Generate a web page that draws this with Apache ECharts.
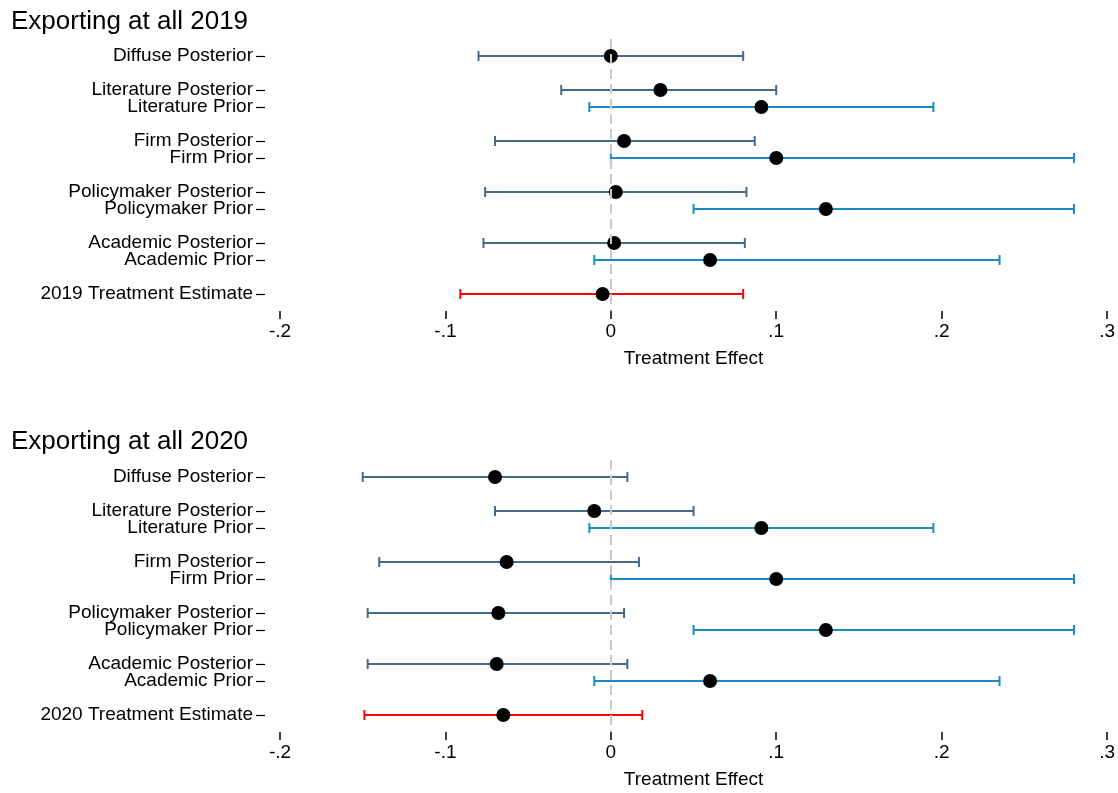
<!DOCTYPE html>
<html>
<head>
<meta charset="utf-8">
<title>Exporting at all</title>
<script src="https://cdn.jsdelivr.net/npm/echarts@6/dist/echarts.min.js"></script>
<style>
	html, body { margin: 0; padding: 0; background: #fff; }
	#chart { width: 1118px; height: 793px; }
</style>
</head>
<body>
<div id="chart"></div>
<script>
	"use strict";

	/*-----data-----*/
	var rowLabels = ['Diffuse Posterior', 'Literature Posterior', 'Literature Prior', 'Firm Posterior', 'Firm Prior',
		'Policymaker Posterior', 'Policymaker Prior', 'Academic Posterior', 'Academic Prior'];
	var rowKinds = ['posterior', 'posterior', 'prior', 'posterior', 'prior', 'posterior', 'prior', 'posterior', 'prior', 'estimate'];

	var est2019 = [0.000, 0.030, 0.091, 0.008, 0.100, 0.003, 0.130, 0.002, 0.060, -0.005];
	var low2019 = [-0.080, -0.030, -0.013, -0.070, 0.000, -0.076, 0.050, -0.077, -0.010, -0.091];
	var high2019 = [0.080, 0.100, 0.195, 0.087, 0.280, 0.082, 0.280, 0.081, 0.235, 0.080];

	var est2020 = [-0.070, -0.010, 0.091, -0.063, 0.100, -0.068, 0.130, -0.069, 0.060, -0.065];
	var low2020 = [-0.150, -0.070, -0.013, -0.140, 0.000, -0.147, 0.050, -0.147, -0.010, -0.149];
	var high2020 = [0.010, 0.050, 0.195, 0.017, 0.280, 0.008, 0.280, 0.010, 0.235, 0.019];

	var kindColor = { posterior: '#46698a', prior: '#1b8cc1', estimate: '#ff0000' };
	var font = "'Liberation Sans Narrow', 'Arial Narrow', 'Liberation Sans', sans-serif";

	// rows: a gap before every row that is not a prior
	function rowPositions() {
		var pos = [], p = -1;
		for (var i = 0; i < rowKinds.length; i++) {
			p += (rowKinds[i] === 'prior') ? 1 : 2;
			pos.push(p);
		}
		return pos;
	}
	var positions = rowPositions();

	function fmtTick(v) {
		var s = Math.abs(v).toFixed(1);
		if (s === '0.0') return '0';
		return (v < 0 ? '-' : '') + s.replace(/^0/, '');
	}

	function panel(idx, top, estimateLabel, est, low, high) {
		var labels = rowLabels.concat([estimateLabel]);
		var bars = [], dots = [];
		for (var i = 0; i < labels.length; i++) {
			bars.push([low[i], high[i], positions[i], i]);
			dots.push([est[i], positions[i]]);
		}
		var grid = { left: 280, right: 10, top: top, height: 272 };
		var xAxis = {
			gridIndex: idx,
			type: 'value',
			position: 'bottom',
			min: -0.2,
			max: 0.3,
			interval: 0.1,
			name: 'Treatment Effect',
			nameLocation: 'middle',
			nameGap: 38,
			nameTextStyle: { fontFamily: font, fontSize: 19, color: '#000' },
			axisLine: { show: false, onZero: false },
			axisTick: { show: true, length: 8, lineStyle: { color: '#000', width: 1.5 } },
			axisLabel: { margin: 11, fontFamily: font, fontSize: 19, color: '#000', formatter: fmtTick },
			splitLine: { show: false }
		};
		var yAxis = {
			gridIndex: idx,
			type: 'value',
			position: 'left',
			inverse: true,
			min: 0,
			max: 16,
			offset: 15,
			axisLine: { show: false, onZero: false },
			axisTick: { show: true, length: 9, customValues: positions, lineStyle: { color: '#000', width: 1.2 } },
			axisLabel: {
				margin: 12,
				fontFamily: font,
				fontSize: 19,
				color: '#000',
				customValues: positions,
				formatter: function (v) {
					var k = positions.indexOf(v);
					return k >= 0 ? labels[k] : '';
				}
			},
			splitLine: { show: false }
		};
		var series = [
			{
				type: 'line',
				xAxisIndex: idx,
				yAxisIndex: idx,
				data: [],
				z: 1,
				markLine: {
					silent: true,
					symbol: 'none',
					label: { show: false },
					lineStyle: { color: '#c8c8c8', type: [10, 5], width: 2 },
					data: [{ xAxis: 0 }]
				}
			},
			{
				type: 'custom',
				xAxisIndex: idx,
				yAxisIndex: idx,
				z: 3,
				data: bars,
				renderItem: function (params, api) {
					var a = api.coord([api.value(0), api.value(2)]);
					var b = api.coord([api.value(1), api.value(2)]);
					var c = kindColor[rowKinds[api.value(3)]];
					var h = 5;
					var st = { stroke: c, lineWidth: 2 };
					return {
						type: 'group',
						children: [
							{ type: 'line', shape: { x1: a[0], y1: a[1], x2: b[0], y2: b[1] }, style: st },
							{ type: 'line', shape: { x1: a[0], y1: a[1] - h, x2: a[0], y2: a[1] + h }, style: st },
							{ type: 'line', shape: { x1: b[0], y1: b[1] - h, x2: b[0], y2: b[1] + h }, style: st }
						]
					};
				}
			},
			{
				type: 'scatter',
				xAxisIndex: idx,
				yAxisIndex: idx,
				z: 4,
				symbol: 'circle',
				symbolSize: 14,
				itemStyle: { color: '#000', opacity: 1 },
				data: dots
			}
		];
		return { grid: grid, xAxis: xAxis, yAxis: yAxis, series: series };
	}

	var p1 = panel(0, 39, '2019 Treatment Estimate', est2019, low2019, high2019);
	var p2 = panel(1, 460, '2020 Treatment Estimate', est2020, low2020, high2020);

	var option = {
		animation: false,
		backgroundColor: '#fff',
		title: [
			{ text: 'Exporting at all 2019', left: 6, top: 4, textStyle: { fontFamily: font, fontSize: 26, fontWeight: 'normal', color: '#000' } },
			{ text: 'Exporting at all 2020', left: 6, top: 424, textStyle: { fontFamily: font, fontSize: 26, fontWeight: 'normal', color: '#000' } }
		],
		grid: [p1.grid, p2.grid],
		xAxis: [p1.xAxis, p2.xAxis],
		yAxis: [p1.yAxis, p2.yAxis],
		series: p1.series.concat(p2.series)
	};

	var chart = echarts.init(document.getElementById('chart'));
	chart.setOption(option);
	window.addEventListener('resize', function () {
		chart.resize();
	});
</script>
</body>
</html>
